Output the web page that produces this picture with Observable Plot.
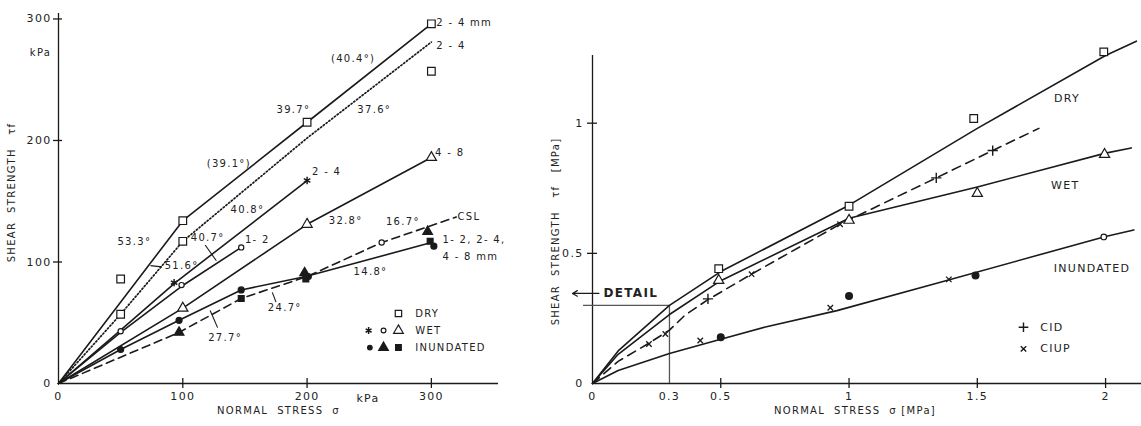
<!DOCTYPE html>
<html>
<head>
<meta charset="utf-8">
<script src="https://cdn.jsdelivr.net/npm/d3@7"></script>
<script src="https://cdn.jsdelivr.net/npm/@observablehq/plot@0.6"></script>
<style>
  html, body { margin: 0; padding: 0; background: #fff; }
  #wrap { position: relative; width: 1141px; height: 426px; overflow: hidden; background: #fff; }
  #left { position: absolute; left: 0; top: 0; }
  #right { position: absolute; left: 540px; top: 0; }
  svg text { letter-spacing: 1.3px; }
</style>
</head>
<body>
<div id="wrap"><div id="left"></div><div id="right"></div></div>
<script>
// ---------------- LEFT PANEL DATA (kPa) ----------------
const dryTopX = [0, 100, 200, 300];
const dryTopY = [0, 134, 215, 296];
const dryDotX = [0, 50, 100, 200, 300];
const dryDotY = [0, 57, 117, 202, 281];
const wet24X = [0, 50, 94, 200];
const wet24Y = [0, 44, 83, 167];
const wet12X = [0, 50, 99, 147];
const wet12Y = [0, 42, 80, 112];
const wet48X = [0, 100, 200, 300];
const wet48Y = [0, 62, 131, 186];
const inunX = [0, 50, 97, 147, 199, 300];
const inunY = [0, 28, 52, 77, 88, 116];
const cslX = [0, 97, 147, 200, 260, 320];
const cslY = [0, 42, 70, 88, 116, 137];

const drySqX = [50, 50, 100, 100, 200, 300, 300];
const drySqY = [86, 57, 134, 117, 215, 296, 257];
const wetCircX = [50, 99, 147, 260];
const wetCircY = [43, 81, 112, 116];
const wetAstX = [93, 200];
const wetAstY = [83, 167];
const wetTriX = [100, 200, 300];
const wetTriY = [62, 131, 186];
const inDotX = [50, 97, 147, 201, 302];
const inDotY = [28, 52, 77, 88, 113];
const inTriX = [97, 198, 297];
const inTriY = [42, 91, 125];
const inSqX = [147, 199, 299];
const inSqY = [70, 86, 117];

const leftTicks = [100, 200, 300];
const leftTickLabels = [0, 100, 200, 300];

// annotation labels (text, x, y, anchor)
const lText = ["2 - 4 mm", "2 - 4", "(40.4°)", "39.7°", "37.6°", "(39.1°)", "40.8°", "53.3°", "51.6°", "40.7°", "1- 2", "2 - 4", "32.8°", "4 - 8", "16.7°", "CSL", "1- 2, 2- 4,", "4 - 8 mm", "14.8°", "24.7°", "27.7°"];
const lX = [304, 304, 237, 189, 254, 137, 152, 61, 99, 120, 150, 204, 231, 303, 277, 321, 309, 309, 251, 182, 134];
const lY = [297, 278, 267, 225, 225, 181, 143, 117, 97, 120, 118, 174, 134, 190, 133, 137, 118, 104, 92, 62, 38];
const lAnchor = ["start", "start", "middle", "middle", "middle", "middle", "middle", "middle", "middle", "middle", "start", "start", "middle", "start", "middle", "start", "start", "start", "middle", "middle", "middle"];

// leader strokes for angle labels
const leadX1 = [118, 122, 172, 74];
const leadY1 = [114, 60, 75, 97];
const leadX2 = [127, 128, 175, 83];
const leadY2 = [101, 46, 67, 96];

// legend (left)
const legRowText = ["DRY", "WET", "INUNDATED"];
const legRowY = [57.6, 43.6, 29.6];
const legTextX = 287;

// ---------------- RIGHT PANEL DATA (MPa) ----------------
const dryRX = [0, 0.1, 0.3, 0.5, 1, 1.5, 2, 2.12];
const dryRY = [0, 0.125, 0.3, 0.43, 0.685, 0.98, 1.26, 1.315];
const wetRX = [0, 0.1, 0.3, 0.5, 1, 1.5, 2, 2.1];
const wetRY = [0, 0.112, 0.265, 0.395, 0.635, 0.755, 0.885, 0.905];
const cidRX = [0, 0.1, 0.22, 0.3, 0.36, 0.45, 0.62, 0.965, 1.34, 1.56, 1.74];
const cidRY = [0, 0.085, 0.155, 0.205, 0.262, 0.322, 0.42, 0.612, 0.79, 0.895, 0.98];
const inunRX = [0, 0.1, 0.3, 0.5, 0.674, 0.953, 1.356, 2, 2.11];
const inunRY = [0, 0.05, 0.115, 0.17, 0.217, 0.28, 0.389, 0.565, 0.59];

const drySqRX = [0.492, 1.0, 1.486, 1.993];
const drySqRY = [0.441, 0.681, 1.018, 1.274];
const wetTriRX = [0.492, 1.0, 1.5, 1.996];
const wetTriRY = [0.396, 0.627, 0.73, 0.88];
const cidPlusX = [0.45, 1.34, 1.56];
const cidPlusY = [0.325, 0.79, 0.895];
const ciupX = [0.22, 0.284, 0.62, 0.965, 0.42, 0.927, 1.389];
const ciupY = [0.152, 0.19, 0.42, 0.612, 0.165, 0.291, 0.4];
const inDotRX = [0.5, 1.0, 1.493];
const inDotRY = [0.178, 0.336, 0.415];
const inCircRX = [1.993];
const inCircRY = [0.563];

const rightTickLabels = [0, 0.3, 0.5, 1, 1.5, 2];
const rightXTicks = [0.5, 1, 1.5, 2];
const rightYTicks = [0.5, 1];
const rightYTickLabels = [0, 0.5, 1];

const rText = ["DRY", "WET", "INUNDATED", "CID", "CIUP"];
const rX = [1.85, 1.843, 1.947, 1.745, 1.745];
const rY = [1.094, 0.761, 0.441, 0.216, 0.133];
const rAnchor = ["middle", "middle", "middle", "start", "start"];
const detailBox = 0.3;
const detailArrowY = 0.346;
const detailArrowX = [0.025, -0.078];
const detailBoxLeft = -0.035;

// ---------------- helpers ----------------
const ink = "#1a1a1a";
const txt = "#222";
const font = "'DejaVu Sans', sans-serif";
const fmt = d => String(d);
const pts = (xs, ys) => xs.map((x, i) => ({x, y: ys[i]}));
const line = (xs, ys, extra = {}) => Plot.line(pts(xs, ys), {x: "x", y: "y", stroke: ink, strokeWidth: 1.6, ...extra});
const dots = (xs, ys, symbol, r, filled, extra = {}) =>
  Plot.dot(pts(xs, ys), {x: "x", y: "y", symbol, r, stroke: ink, strokeWidth: 1.2, fill: filled ? ink : "white", ...extra});

// ---------------- LEFT CHART ----------------
const leftXMax = 354, leftYMax = 304.5;
const left = Plot.plot({
  width: 540, height: 426,
  marginLeft: 58, marginRight: 42, marginTop: 13, marginBottom: 43,
  x: {domain: [0, leftXMax]},
  y: {domain: [0, leftYMax]},
  style: {fontFamily: font, fontSize: "10px", color: txt, background: "transparent", overflow: "visible"},
  marks: [
    Plot.ruleY([0], {x1: 0, x2: leftXMax, stroke: ink, strokeWidth: 1.3}),
    Plot.ruleX([0], {y1: 0, y2: leftYMax, stroke: ink, strokeWidth: 1.3}),
    Plot.ruleX(leftTicks, {x: d => d, y1: 0, y2: 0, insetTop: -5, insetBottom: -5, stroke: ink, strokeWidth: 1.3}),
    Plot.ruleY(leftTicks, {y: d => d, x1: 0, x2: 0, insetLeft: -5, insetRight: -4, stroke: ink, strokeWidth: 1.3}),
    Plot.axisX(leftTickLabels, {tickSize: 0, tickPadding: 9, label: null, fontSize: 11, fill: txt, tickFormat: fmt}),
    Plot.axisY(leftTickLabels, {tickSize: 0, tickPadding: 7, label: null, fontSize: 11, fill: txt, tickFormat: fmt}),
    Plot.text(["kPa"], {x: 249, y: 0, dy: 15, fontSize: 11, fill: txt}),
    Plot.text(["kPa"], {x: 0, y: 272, dx: -18, fontSize: 10, fill: txt}),
    Plot.text(["NORMAL  STRESS  σ"], {frameAnchor: "bottom", dy: 30, fontSize: 10, fill: txt}),
    Plot.text(["SHEAR  STRENGTH   τf"], {frameAnchor: "left", textAnchor: "middle", dx: -47, dy: -6, rotate: -90, fontSize: 10, fill: txt}),

    line(dryTopX, dryTopY),
    line(dryDotX, dryDotY, {strokeDasharray: "1.3,2.2", strokeWidth: 1.7}),
    line(wet24X, wet24Y),
    line(wet12X, wet12Y),
    line(wet48X, wet48Y),
    line(inunX, inunY),
    line(cslX, cslY, {strokeDasharray: "8,5"}),
    Plot.link(pts(leadX1, leadY1).map((p, i) => ({...p, x2: leadX2[i], y2: leadY2[i]})),
      {x1: "x", y1: "y", x2: "x2", y2: "y2", stroke: ink, strokeWidth: 1.1}),

    dots(drySqX, drySqY, "square", 4.3, false),
    dots(wetCircX, wetCircY, "circle", 2.6, false),
    dots(wetAstX, wetAstY, "asterisk", 3.5, false, {strokeWidth: 1.5}),
    dots(wetTriX, wetTriY, "triangle", 3.8, false),
    dots(inDotX, inDotY, "circle", 3, true),
    dots(inTriX, inTriY, "triangle", 3.6, true),
    dots(inSqX, inSqY, "square", 3.3, true),

    Plot.text(lText.map((t, i) => ({t, x: lX[i], y: lY[i], a: lAnchor[i]})).filter(d => d.a === "middle"),
      {x: "x", y: "y", text: "t", textAnchor: "middle", fontSize: 10, fill: txt}),
    Plot.text(lText.map((t, i) => ({t, x: lX[i], y: lY[i], a: lAnchor[i]})).filter(d => d.a === "start"),
      {x: "x", y: "y", text: "t", textAnchor: "start", fontSize: 10, fill: txt}),

    // legend
    dots([273.5], [57.6], "square", 3.6, false),
    dots([249.5], [43.6], "asterisk", 3.2, false, {strokeWidth: 1.5}),
    dots([261.5], [43.6], "circle", 2.4, false),
    dots([273.5], [43.6], "triangle", 3.6, false),
    dots([250.5], [29.6], "circle", 2.3, true),
    dots([261.5], [29.6], "triangle", 3.6, true),
    dots([273.5], [29.6], "square", 3.2, true),
    Plot.text(legRowText.map((t, i) => ({t, y: legRowY[i]})), {x: legTextX, y: "y", text: "t", textAnchor: "start", fontSize: 10, fill: txt})
  ]
});
document.getElementById("left").appendChild(left);

// ---------------- RIGHT CHART ----------------
const rightXMax = 2.14, rightYMax = 1.26;
const right = Plot.plot({
  width: 601, height: 426,
  marginLeft: 52, marginRight: 0, marginTop: 55, marginBottom: 43,
  x: {domain: [0, rightXMax]},
  y: {domain: [0, rightYMax]},
  style: {fontFamily: font, fontSize: "10px", color: txt, background: "transparent", overflow: "visible"},
  marks: [
    Plot.ruleY([0], {x1: 0, x2: rightXMax, stroke: ink, strokeWidth: 1.3}),
    Plot.ruleX([0], {y1: 0, y2: rightYMax, stroke: ink, strokeWidth: 1.3}),
    Plot.ruleX(rightXTicks, {x: d => d, y1: 0, y2: 0, insetTop: -5, insetBottom: -5, stroke: ink, strokeWidth: 1.3}),
    Plot.ruleY(rightYTicks, {y: d => d, x1: 0, x2: 0, insetLeft: -5, insetRight: -5, stroke: ink, strokeWidth: 1.3}),
    Plot.axisX(rightTickLabels, {tickSize: 0, tickPadding: 9, label: null, fontSize: 11, fill: txt, tickFormat: fmt}),
    Plot.axisY(rightYTickLabels, {tickSize: 0, tickPadding: 9, label: null, fontSize: 11, fill: txt, tickFormat: fmt}),
    Plot.text(["NORMAL  STRESS  σ [MPa]"], {frameAnchor: "bottom", dx: -12, dy: 30, fontSize: 10, fill: txt}),
    Plot.text(["SHEAR  STRENGTH   τf   [MPa]"], {frameAnchor: "left", textAnchor: "middle", dx: -37, dy: 12, rotate: -90, fontSize: 10, fill: txt}),

    // detail box
    Plot.ruleY([detailBox], {x1: detailBoxLeft, x2: detailBox, stroke: "#555", strokeWidth: 1.3}),
    Plot.ruleX([detailBox], {y1: 0, y2: detailBox, stroke: "#555", strokeWidth: 1.3}),
    Plot.arrow([0], {x1: detailArrowX[0], x2: detailArrowX[1], y1: detailArrowY, y2: detailArrowY, stroke: ink, strokeWidth: 1.2, headLength: 7}),
    Plot.text(["DETAIL"], {x: 0.043, y: detailArrowY, textAnchor: "start", fontSize: 12, fontWeight: "bold", fill: txt}),

    line(dryRX, dryRY),
    line(wetRX, wetRY),
    line(cidRX, cidRY, {strokeDasharray: "9,6"}),
    line(inunRX, inunRY),

    dots(drySqRX, drySqRY, "square", 4.3, false),
    dots(wetTriRX, wetTriRY, "triangle", 3.8, false),
    dots(cidPlusX, cidPlusY, "plus", 3.4, false, {strokeWidth: 1.4}),
    dots(ciupX, ciupY, "times", 2.6, false, {strokeWidth: 1.3}),
    dots(inDotRX, inDotRY, "circle", 3.4, true),
    dots(inCircRX, inCircRY, "circle", 2.8, false),

    Plot.text(rText.map((t, i) => ({t, x: rX[i], y: rY[i], a: rAnchor[i]})).filter(d => d.a === "middle"),
      {x: "x", y: "y", text: "t", textAnchor: "middle", fontSize: 11, fill: txt}),
    Plot.text(rText.map((t, i) => ({t, x: rX[i], y: rY[i], a: rAnchor[i]})).filter(d => d.a === "start"),
      {x: "x", y: "y", text: "t", textAnchor: "start", fontSize: 11, fill: txt}),
    dots([1.68], [0.216], "plus", 3.2, false, {strokeWidth: 1.4}),
    dots([1.68], [0.133], "times", 2.6, false, {strokeWidth: 1.4})
  ]
});
document.getElementById("right").appendChild(right);
</script>
</body>
</html>
